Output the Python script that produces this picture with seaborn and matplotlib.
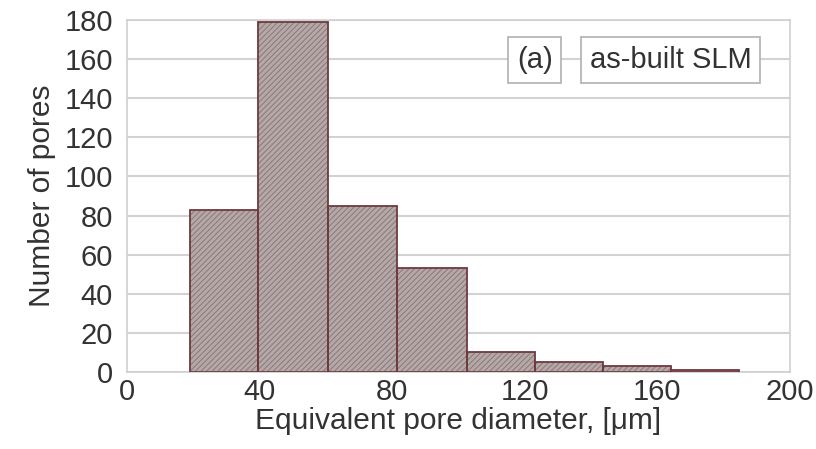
import matplotlib
matplotlib.use("Agg")
import matplotlib.pyplot as plt
import seaborn as sns
import numpy as np

# Data
bin_edges = [19, 39.5, 60.5, 81.5, 102.5, 123, 143.5, 164, 184.5]
counts = [83, 179, 85, 53, 10, 5, 3, 1]
x_ticks = [0, 40, 80, 120, 160, 200]
y_ticks = [0, 20, 40, 60, 80, 100, 120, 140, 160, 180]
x_label = "Equivalent pore diameter, [μm]"
y_label = "Number of pores"
panel_tag = "(a)"
panel_name = "as-built SLM"

sns.set_style("white")
plt.rcParams['font.family'] = ['Liberation Sans', 'DejaVu Sans']
plt.rcParams['hatch.linewidth'] = 0.7

centers = [(bin_edges[i] + bin_edges[i + 1]) / 2 for i in range(len(counts))]

fig = plt.figure(figsize=(8.16, 4.49), dpi=100)
ax = fig.add_axes([127 / 816, 1 - 372 / 449, (790 - 127) / 816, (372 - 20) / 449])

FS = 21
TXT = "#333333"

# Hatched fill
sns.histplot(x=centers, weights=counts, bins=bin_edges, ax=ax,
             color="#b5a8a8", alpha=1, edgecolor="#8a7878", linewidth=0,
             hatch="//////", zorder=2)
# Outline
sns.histplot(x=centers, weights=counts, bins=bin_edges, ax=ax,
             fill=False, color="#6e3a3e", edgecolor="#6e3a3e", linewidth=1.3, zorder=3)

ax.set_xlim(0, 200)
ax.set_ylim(0, 180)
ax.set_xticks(x_ticks)
ax.set_yticks(y_ticks)
ax.tick_params(axis='both', length=0, labelsize=FS, colors=TXT)
ax.tick_params(axis='y', pad=10)
ax.tick_params(axis='x', pad=4)
ax.yaxis.grid(True, color="#d2d2d2", linewidth=1.5, zorder=0)
ax.xaxis.grid(False)
ax.set_axisbelow(True)
for s in ax.spines.values():
    s.set_visible(True)
    s.set_color("#d0d0d0")
    s.set_linewidth(1.2)

ax.set_xlabel(x_label, fontsize=21.5, color=TXT, labelpad=1)
ax.set_ylabel(y_label, fontsize=21.5, color=TXT, labelpad=6)

def boxed(xf, text):
    ax.text(xf, 0.886, text, transform=ax.transAxes, fontsize=FS, color=TXT,
            ha="center", va="center", zorder=5,
            bbox=dict(boxstyle="square,pad=0.3", facecolor="white",
                      edgecolor="#b0b0b0", linewidth=1.2))

boxed(0.615, panel_tag)
boxed(0.82, panel_name)

fig.savefig("out.png", dpi=100)
